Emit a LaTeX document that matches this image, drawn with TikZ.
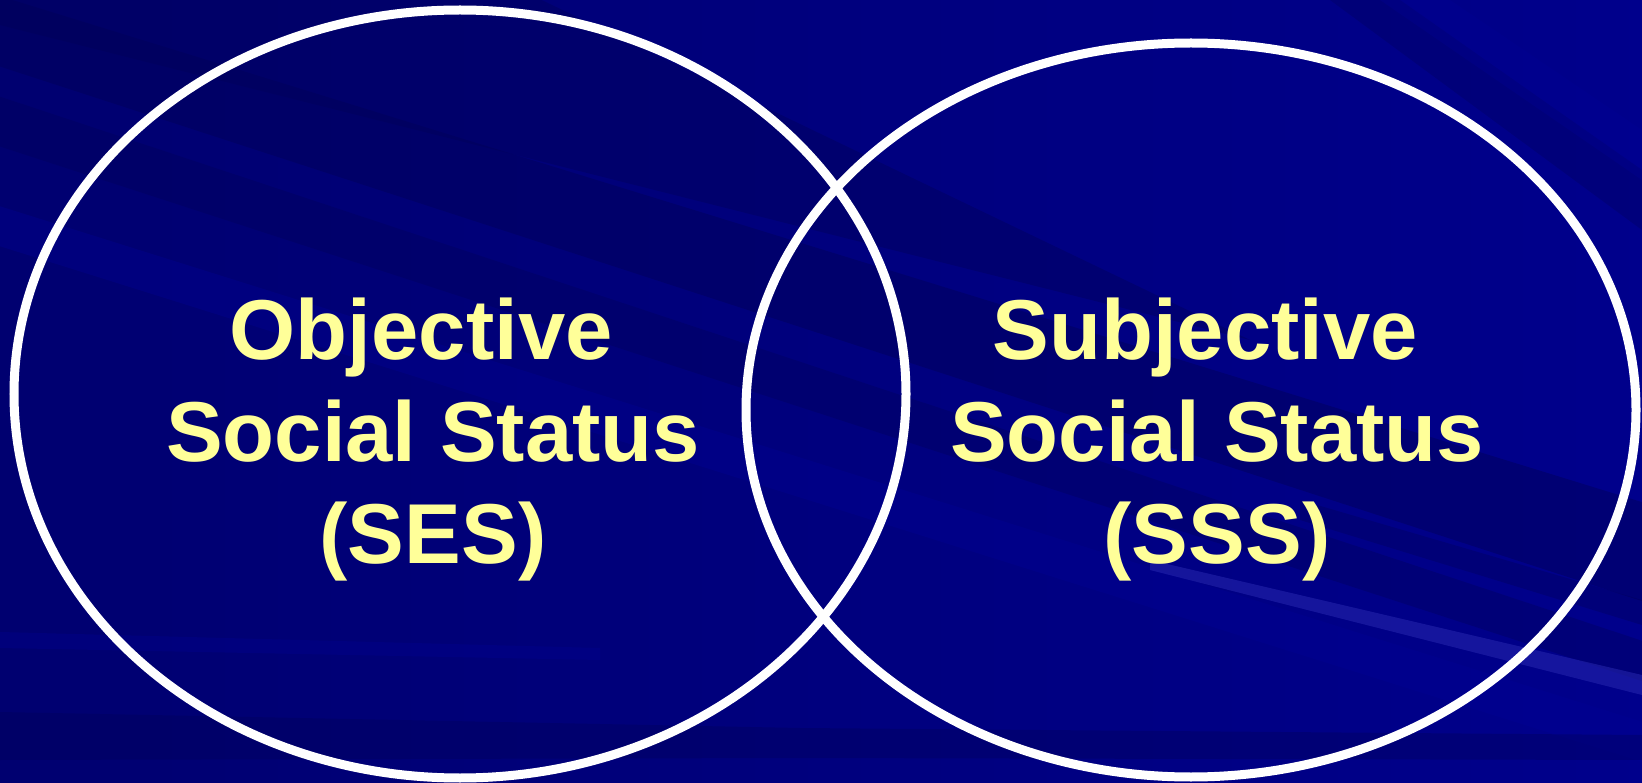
\documentclass[tikz,border=0pt]{standalone}
\usepackage{fontspec}
\usetikzlibrary{shapes.geometric}
\newfontfamily\labelfont{Liberation Sans}
\definecolor{bgnavy}{RGB}{0,0,132}
\definecolor{bgdark}{RGB}{0,0,88}
\definecolor{bglight}{RGB}{0,0,150}
\definecolor{streak}{RGB}{40,40,175}
\definecolor{labelyellow}{RGB}{255,255,153}
\tikzset{
  setring/.style={ellipse, draw=white, line width=9pt, inner sep=0pt},
  setlabel/.style={align=center, inner sep=0pt, text=labelyellow,
    font=\labelfont\bfseries\fontsize{85}{102}\selectfont},
}
\begin{document}
\begin{tikzpicture}[x=1pt,y=-1pt]
  % backdrop: navy, darker towards the upper left
  \useasboundingbox (0,0) rectangle (1642,783);
  \shade[shading angle=120, left color=bgdark, right color=bglight]
    (0,0) rectangle (1642,783);
  \fill[bgnavy, opacity=0.55] (0,0) rectangle (1642,783);
  % long diagonal bands running down to the right
  \fill[bgdark, opacity=0.45] (-20,-10) -- (-20,60) -- (1700,620) -- (1700,520) -- cycle;
  \fill[bgdark, opacity=0.35] (-20,90) -- (-20,140) -- (1700,700) -- (1700,660) -- cycle;
  \fill[bgdark, opacity=0.4] (-20,-20) -- (-20,20) -- (1250,340) -- (500,-20) -- cycle;
  \fill[bglight, opacity=0.35] (-20,200) -- (-20,240) -- (1700,780) -- (1700,740) -- cycle;
  % faint horizontal bands along the bottom
  \fill[bgdark, opacity=0.35] (0,712) -- (800,728) -- (1642,735) -- (1642,760) -- (800,758) -- (0,760) -- cycle;
  \fill[bglight, opacity=0.3] (0,632) -- (600,648) -- (600,660) -- (0,648) -- cycle;
  % lighter streak lower right
  \fill[streak, opacity=0.55] (1150,560) -- (1642,675) -- (1642,695) -- (1150,570) -- cycle;
  \fill[bgdark, opacity=0.35] (1300,500) -- (1642,600) -- (1642,625) -- (1300,520) -- cycle;
  % steep streaks upper right
  \fill[bgdark, opacity=0.3] (1330,0) -- (1642,230) -- (1642,170) -- (1400,0) -- cycle;
  \fill[bglight, opacity=0.3] (1380,0) -- (1642,180) -- (1642,130) -- (1450,0) -- cycle;
  % the two sets
  \node[setring, minimum width=892pt, minimum height=768pt] (objring) at (460,394) {};
  \node[setring, minimum width=890pt, minimum height=734pt] (subring) at (1191,410) {};
  % set labels
  \node[setlabel] (objlabel) at (433,440) {Objective\kern0.278em\\Social Status\\(SES)};
  \node[setlabel] (sublabel) at (1217,440) {Subjective\kern0.278em\\Social Status\\(SSS)};
\end{tikzpicture}
\end{document}
